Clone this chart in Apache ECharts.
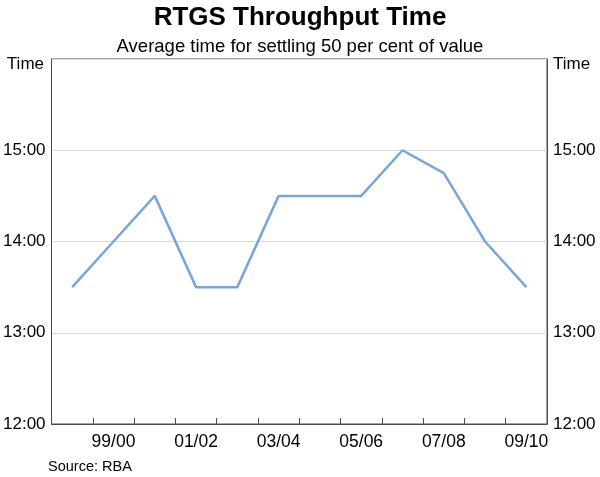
<!DOCTYPE html>
<html><head><meta charset="utf-8">
<script src="https://cdn.jsdelivr.net/npm/echarts@6/dist/echarts.min.js"></script>
<style>html,body{margin:0;padding:0;background:#fff}#c{width:600px;height:477px}</style>
</head><body><div id="c"></div>
<script>
const categories = ['98/99','99/00','00/01','01/02','02/03','03/04','04/05','05/06','06/07','07/08','08/09','09/10'];
const throughputTime = ['13:30','14:00','14:30','13:30','13:30','14:30','14:30','14:30','15:00','14:45','14:00','13:30'];
const yTicks = ['12:00','13:00','14:00','15:00'];

const toHours = s => { const [h,m] = s.split(':').map(Number); return h + m/60; };
const values = throughputTime.map(toHours);
const fmt = v => (v >= 16 ? '' : (Math.round(v) + ':00'));
const FONT = 'Liberation Sans, Arial, sans-serif';

const chart = echarts.init(document.getElementById('c'));
const yAxisBase = {
  type: 'value', min: 12, max: 16, interval: 1,
  axisLine: { show: true, lineStyle: { color: '#4d4d4d', width: 1 } },
  axisTick: { show: false },
  splitLine: { show: true, lineStyle: { color: '#d9d9d9', width: 1 } },
  axisLabel: { formatter: fmt, color: '#000', fontSize: 17, fontFamily: FONT, margin: 6 }
};
chart.setOption({
  animation: false,
  title: [
    { text: 'RTGS Throughput Time', left: 'center', top: 0, textStyle: { fontSize: 26, fontWeight: 'bold', color: '#000', fontFamily: FONT } },
    { text: 'Average time for settling 50 per cent of value', left: 'center', top: 32, textStyle: { fontSize: 18.5, fontWeight: 'normal', color: '#000', fontFamily: FONT } }
  ],
  graphic: [
    { type: 'text', right: 556, top: 56, style: { text: 'Time', fontSize: 17, fontFamily: FONT, fill: '#000', textAlign: 'right' } },
    { type: 'text', left: 553, top: 56, style: { text: 'Time', fontSize: 17, fontFamily: FONT, fill: '#000' } },
    { type: 'text', left: 48, top: 459, style: { text: 'Source: RBA', fontSize: 14.5, fontFamily: FONT, fill: '#000' } }
  ],
  grid: { left: 51, right: 53, top: 59, bottom: 53, show: true, borderColor: '#4d4d4d', borderWidth: 1, backgroundColor: 'transparent' },
  xAxis: {
    type: 'category', data: categories, boundaryGap: true,
    axisLine: { show: true, lineStyle: { color: '#4d4d4d', width: 1 } },
    axisTick: { show: true, inside: true, length: 6, interval: 0, lineStyle: { color: '#4d4d4d' } },
    axisLabel: { interval: (i) => i % 2 === 1, color: '#000', fontSize: 17.5, fontFamily: FONT, margin: 9 },
    splitLine: { show: false }
  },
  yAxis: [
    Object.assign({ position: 'left' }, yAxisBase),
    Object.assign({ position: 'right' }, yAxisBase, { splitLine: { show: false } })
  ],
  series: [{
    type: 'line', data: values, yAxisIndex: 0, showSymbol: false, symbol: 'none',
    lineStyle: { color: '#7ba4da', width: 2.5 }
  }]
});
</script></body></html>
